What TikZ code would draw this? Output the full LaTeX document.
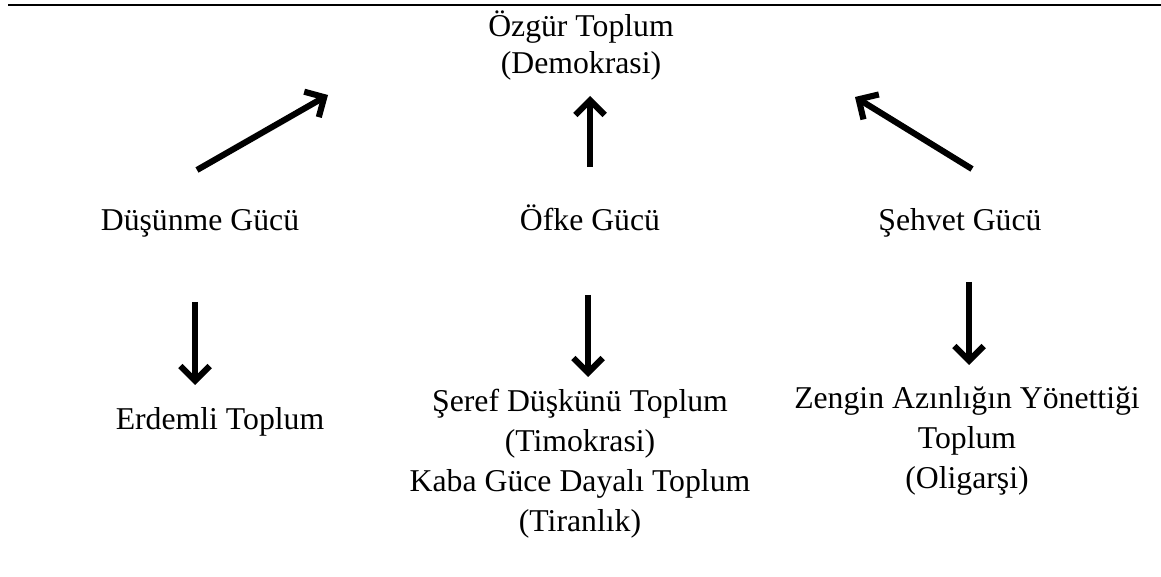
\documentclass[tikz,border=0pt]{standalone}
\usepackage{fontspec}
\setmainfont{Liberation Serif}
\usepackage{tikz}
\usetikzlibrary{arrows.meta}

\begin{document}
\begin{tikzpicture}[
  x=0.75pt, y=-0.75pt,
  txt/.style={inner sep=0pt, anchor=base, align=center,
              font=\fontsize{23.8}{30}\selectfont},
  pil/.style={line width=4.6pt, -{Straight Barb[length=11pt, width=22pt]}},
]
  \useasboundingbox (0,0) rectangle (1161,577);

  % Rule at the top
  \coordinate (ruleL) at (8,5);
  \coordinate (ruleR) at (1161,5);
  \draw[line width=1.6pt] (ruleL) -- (ruleR);

  % Top: free society (base = last line)
  \node[txt, font=\fontsize{23.8}{28}\selectfont] (ozgur) at (581,74)
    {Özgür Toplum\\(Demokrasi)};

  % The three powers
  \node[txt] (dusunme) at (200,231) {Düşünme Gücü};
  \node[txt] (ofke) at (590,231) {Öfke Gücü};
  \node[txt] (sehvet) at (960,231) {Şehvet Gücü};

  % Societies below
  \node[txt] (erdemli) at (220,430) {Erdemli Toplum};
  \node[txt] (seref) at (580,531)
    {Şeref Düşkünü Toplum\\(Timokrasi)\\Kaba Güce Dayalı Toplum\\(Tiranlık)};
  \node[txt] (zengin) at (967,488)
    {Zengin Azınlığın Yönettiği\\Toplum\\(Oligarşi)};

  % Arrow ends
  \coordinate (aL1) at (197,170);  \coordinate (aL2) at (328,95);
  \coordinate (aM1) at (590,167);  \coordinate (aM2) at (590,96);
  \coordinate (aR1) at (972,169);  \coordinate (aR2) at (855,97);
  \coordinate (dL1) at (195,302);  \coordinate (dL2) at (195,385);
  \coordinate (dM1) at (588,295);  \coordinate (dM2) at (588,377);
  \coordinate (dR1) at (969,282);  \coordinate (dR2) at (969,365);

  % Arrows up
  \draw[pil] (aL1) -- (aL2);
  \draw[pil] (aM1) -- (aM2);
  \draw[pil] (aR1) -- (aR2);

  % Arrows down
  \draw[pil] (dL1) -- (dL2);
  \draw[pil] (dM1) -- (dM2);
  \draw[pil] (dR1) -- (dR2);
\end{tikzpicture}
\end{document}
